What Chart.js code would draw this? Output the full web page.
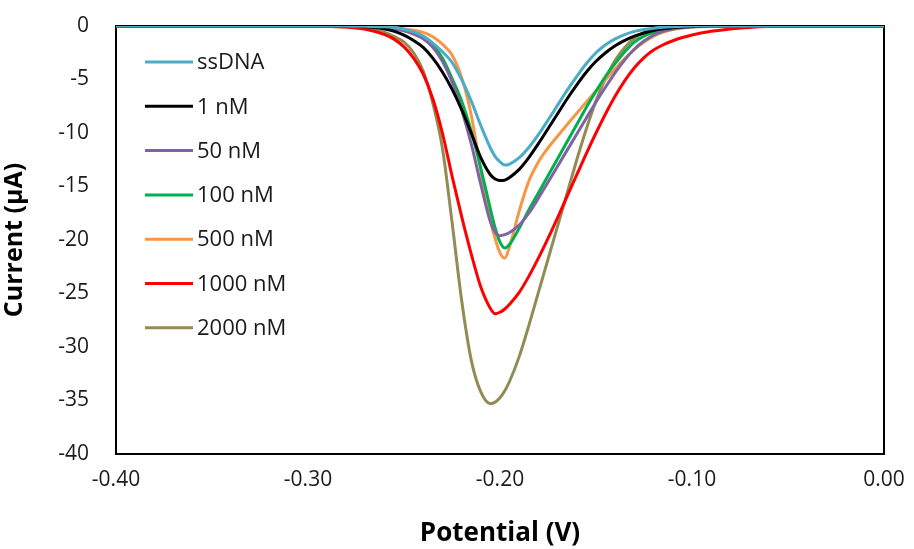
<!DOCTYPE html>
<html>
<head>
<meta charset="utf-8">
<script src="https://cdn.jsdelivr.net/npm/chart.js@4/dist/chart.umd.min.js"></script>
<style>
  html, body { margin: 0; padding: 0; background: #ffffff; }
  #wrap { width: 914px; height: 549px; position: relative; }
</style>
</head>
<body>
<div id="wrap"><canvas id="c" width="914" height="549"></canvas></div>
<script>
// Potential (V) grid shared by all series
const potential = [-0.40, -0.30, -0.29, -0.28, -0.27, -0.26, -0.255, -0.25, -0.245, -0.24,
  -0.235, -0.23, -0.225, -0.22, -0.215, -0.21, -0.205, -0.2025, -0.20, -0.1975,
  -0.195, -0.19, -0.185, -0.18, -0.175, -0.17, -0.165, -0.16, -0.155, -0.15,
  -0.145, -0.14, -0.135, -0.13, -0.125, -0.12, -0.115, -0.11, -0.105, -0.10,
  -0.09, -0.08, -0.07, -0.06, -0.04, 0.00];

// Current (µA) per series
const ssDNA = [0, 0, 0, -0.01, -0.03, -0.08, -0.15, -0.3, -0.55, -0.95,
  -1.6, -2.4, -3.4, -5.0, -7.0, -9.3, -11.4, -12.2, -12.7, -13.0,
  -12.9, -12.3, -11.35, -10.15, -8.8, -7.4, -6.0, -4.7, -3.5, -2.5,
  -1.75, -1.2, -0.8, -0.5, -0.32, -0.2, -0.12, -0.07, -0.03, -0.01,
  0, 0, 0, 0, 0, 0];
const nM1 = [0, 0, 0, -0.02, -0.08, -0.28, -0.5, -0.85, -1.35, -2.0,
  -3.0, -4.3, -5.9, -7.8, -10.0, -12.3, -13.9, -14.3, -14.45, -14.4,
  -14.15, -13.4, -12.3, -11.0, -9.6, -8.2, -6.8, -5.5, -4.3, -3.3,
  -2.5, -1.85, -1.35, -0.95, -0.65, -0.42, -0.27, -0.16, -0.09, -0.05,
  -0.01, 0, 0, 0, 0, 0];
const nM50 = [0, 0, 0, -0.02, -0.06, -0.15, -0.28, -0.45, -0.75, -1.2,
  -2.0, -3.3, -5.2, -7.8, -11.0, -14.8, -18.3, -19.3, -19.6, -19.5,
  -19.3, -18.6, -17.5, -16.1, -14.6, -13.1, -11.6, -10.1, -8.6, -7.1,
  -5.7, -4.35, -3.15, -2.15, -1.4, -0.85, -0.5, -0.28, -0.15, -0.07,
  -0.02, 0, 0, 0, 0, 0];
const nM100 = [0, 0, 0, -0.02, -0.05, -0.13, -0.25, -0.4, -0.7, -1.1,
  -1.8, -3.0, -4.9, -7.0, -9.8, -13.3, -17.1, -18.9, -20.2, -20.75,
  -20.4, -18.9, -17.2, -15.6, -14.0, -12.4, -10.8, -9.2, -7.6, -6.1,
  -4.7, -3.5, -2.4, -1.5, -0.95, -0.6, -0.38, -0.22, -0.12, -0.06,
  -0.01, 0, 0, 0, 0, 0];
const nM500 = [0, 0, 0, 0, -0.03, -0.1, -0.17, -0.27, -0.4, -0.6,
  -1.0, -1.7, -2.7, -4.8, -8.3, -13.5, -18.2, -19.9, -21.2, -21.7,
  -20.6, -17.3, -14.5, -12.7, -11.4, -10.3, -9.2, -8.15, -7.1, -6.05,
  -5.0, -4.0, -3.05, -2.2, -1.5, -0.95, -0.58, -0.33, -0.18, -0.09,
  -0.03, 0, 0, 0, 0, 0];
const nM1000 = [0, 0, -0.03, -0.1, -0.3, -0.8, -1.25, -1.95, -3.0, -4.5,
  -6.8, -10.0, -14.0, -17.8, -21.3, -24.4, -26.4, -26.9, -26.75, -26.45,
  -26.0, -24.9, -23.4, -21.7, -19.85, -17.9, -15.9, -13.9, -11.9, -10.0,
  -8.2, -6.55, -5.1, -3.9, -2.95, -2.25, -1.75, -1.38, -1.08, -0.84,
  -0.5, -0.27, -0.13, -0.05, -0.01, 0];
const nM2000 = [0, 0, -0.02, -0.08, -0.25, -0.6, -1.0, -1.5, -2.5, -4.2,
  -7.2, -11.4, -18.3, -25.6, -31.2, -34.2, -35.3, -35.15, -34.75, -34.1,
  -33.2, -30.9, -28.0, -24.9, -21.8, -18.7, -15.6, -12.5, -9.6, -7.0,
  -4.9, -3.2, -2.0, -1.15, -0.6, -0.28, -0.12, -0.04, -0.01, 0,
  0, 0, 0, 0, 0, 0];

const seriesLabels = ['ssDNA', '1 nM', '50 nM', '100 nM', '500 nM', '1000 nM', '2000 nM'];
const seriesValues = [ssDNA, nM1, nM50, nM100, nM500, nM1000, nM2000];
const seriesColors = ['#4BACC6', '#000000', '#8064A2', '#00B050', '#F79646', '#FF0000', '#948A54'];

const xTickValues = [-0.40, -0.30, -0.20, -0.10, 0.00];
const xTickLabels = ['-0.40', '-0.30', '-0.20', '-0.10', '0.00'];
const yTickValues = [0, -5, -10, -15, -20, -25, -30, -35, -40];
const yTickLabels = ['0', '-5', '-10', '-15', '-20', '-25', '-30', '-35', '-40'];

const xTitle = 'Potential (V)';
const yTitle = 'Current (µA)';

const FONT = "'Open Sans', 'DejaVu Sans', sans-serif";

const datasets = seriesLabels.map((lab, i) => ({
  label: lab,
  data: potential.map((x, k) => ({ x: x, y: seriesValues[i][k] })),
  borderColor: seriesColors[i],
  backgroundColor: seriesColors[i],
  borderWidth: 3,
  pointRadius: 0,
  cubicInterpolationMode: 'monotone',
  fill: false
}));

// draw the plot frame behind the data
const framePlugin = {
  id: 'frame',
  beforeDatasetsDraw(chart) {
    const a = chart.chartArea, ctx = chart.ctx;
    ctx.save();
    ctx.strokeStyle = '#000000';
    ctx.lineWidth = 2;
    ctx.strokeRect(a.left, a.top, a.right - a.left, a.bottom - a.top);
    ctx.restore();
  }
};

// legend inside the plot area, vertical list with line samples
const insideLegend = {
  id: 'insideLegend',
  afterDatasetsDraw(chart) {
    const ctx = chart.ctx, a = chart.chartArea;
    ctx.save();
    ctx.font = "22px " + FONT;
    ctx.textBaseline = 'middle';
    ctx.textAlign = 'left';
    chart.data.datasets.forEach((ds, i) => {
      const y = a.top + 36 + i * 44.3;
      const x0 = a.left + 29;
      ctx.strokeStyle = ds.borderColor;
      ctx.lineWidth = 3;
      ctx.beginPath();
      ctx.moveTo(x0, y);
      ctx.lineTo(x0 + 48, y);
      ctx.stroke();
      ctx.fillStyle = '#1a1a1a';
      ctx.fillText(ds.label, x0 + 52, y + 1);
    });
    ctx.restore();
  }
};

new Chart(document.getElementById('c'), {
  type: 'line',
  data: { datasets },
  plugins: [framePlugin, insideLegend],
  options: {
    responsive: false,
    animation: false,
    devicePixelRatio: 1,
    layout: { padding: { left: 0, right: 30, top: 26, bottom: 0 } },
    plugins: { legend: { display: false }, tooltip: { enabled: false } },
    scales: {
      x: {
        type: 'linear',
        min: -0.40, max: 0.00,
        afterBuildTicks(scale) { scale.ticks = xTickValues.map(v => ({ value: v })); },
        afterFit(scale) { scale.height = 95; scale.paddingLeft = 0; scale.paddingRight = 0; },
        grid: { display: false, drawTicks: false },
        border: { display: false },
        ticks: {
          padding: 13,
          color: '#1a1a1a',
          font: { family: FONT, size: 21 },
          callback: (v, i) => xTickLabels[i]
        },
        title: {
          display: true, text: xTitle, color: '#000000',
          font: { family: FONT, size: 26, weight: 'bold' },
          padding: { top: 6, bottom: 0 }
        }
      },
      y: {
        type: 'linear',
        min: -40, max: 0,
        afterBuildTicks(scale) { scale.ticks = yTickValues.map(v => ({ value: v })); },
        afterFit(scale) { scale.width = 116; scale.paddingTop = 0; scale.paddingBottom = 0; },
        grid: { display: false, drawTicks: false },
        border: { display: false },
        ticks: {
          padding: 27,
          color: '#1a1a1a',
          font: { family: FONT, size: 21 },
          callback: (v, i) => yTickLabels[i]
        },
        title: {
          display: true, text: yTitle, color: '#000000',
          font: { family: FONT, size: 25, weight: 'bold' },
          padding: { top: 0, bottom: 4 }
        }
      }
    }
  }
});
</script>
</body>
</html>
